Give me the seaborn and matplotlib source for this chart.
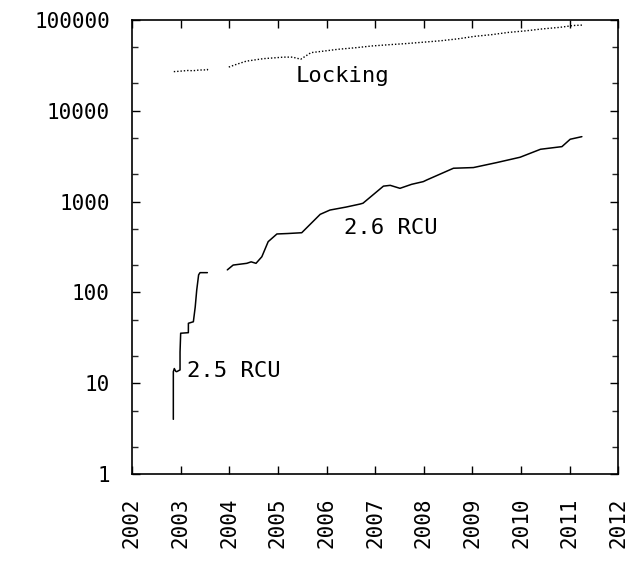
import matplotlib
matplotlib.use("Agg")
import matplotlib.pyplot as plt
import seaborn as sns
import pandas as pd
import numpy as np
from matplotlib.ticker import FixedLocator, NullFormatter

# ---- data ----
lock25_years = [2002.86, 2002.95, 2003.05, 2003.15, 2003.25, 2003.35, 2003.45, 2003.55, 2003.56]
lock25_vals = [27000, 27200, 27500, 27800, 27600, 28000, 28200, 28200, 30000]

lock26_years = [2003.99, 2004.15, 2004.35, 2004.7, 2005.12, 2005.3, 2005.47, 2005.68, 2005.95,
                2006.24, 2006.6, 2006.94, 2007.3, 2007.64, 2008.0, 2008.34, 2008.7, 2009.04,
                2009.4, 2009.74, 2010.1, 2010.44, 2010.8, 2011.07, 2011.28]
lock26_vals = [30300, 32500, 35200, 37500, 39000, 39000, 37000, 43700, 45500,
               47600, 49500, 51800, 53500, 55000, 57000, 59000, 62000, 66000,
               69000, 73000, 76000, 79800, 83000, 86900, 88000]

rcu25_years = [2002.850, 2002.850, 2002.870, 2002.900, 2002.919, 2002.988, 2002.988, 2003.001,
               2003.159, 2003.160, 2003.262, 2003.300, 2003.331, 2003.370, 2003.399, 2003.550]
rcu25_vals = [4.0, 13.4, 14.5, 13.5, 13.4, 14.0, 22, 35.5,
              36, 45.7, 47.5, 69, 106, 156, 165, 165]

rcu26_years = [2003.96, 2004.08, 2004.36, 2004.45, 2004.55, 2004.67, 2004.80, 2004.98, 2005.20,
               2005.49, 2005.87, 2006.07, 2006.40, 2006.69, 2006.75, 2007.17, 2007.31, 2007.51,
               2007.75, 2007.99, 2008.06, 2008.61, 2009.02, 2009.50, 2009.98, 2010.40, 2010.84,
               2011.01, 2011.25]
rcu26_vals = [177, 200, 209, 217, 209, 247, 362, 440, 445,
              454, 724, 807, 870, 940, 960, 1480, 1510, 1400,
              1550, 1660, 1730, 2330, 2370, 2690, 3080, 3770, 4030,
              4860, 5190]

year_ticks = list(range(2002, 2013))
y_ticks = [1, 10, 100, 1000, 10000, 100000]
y_tick_labels = ["1", "10", "100", "1000", "10000", "100000"]

labels = ["Locking", "2.6 RCU", "2.5 RCU"]
label_x = [2006.32, 2007.33, 2004.1]
label_y = [24000, 510, 13.5]

# ---- style ----
sns.set_theme(style="white")
plt.rcParams["font.family"] = ["DejaVu Sans Mono"]
plt.rcParams["axes.linewidth"] = 1.2
plt.rcParams["axes.edgecolor"] = "black"
plt.rcParams["text.color"] = "black"

fig = plt.figure(figsize=(6.3, 5.68), dpi=100)
ax = fig.add_axes([0.2095, 0.1655, 0.772, 0.7993])

def seg(years, vals, **kw):
    df = pd.DataFrame({"year": years, "val": vals})
    sns.lineplot(data=df, x="year", y="val", ax=ax, color="black", sort=False,
                 estimator=None, legend=False, **kw)

seg(lock25_years, lock25_vals, linewidth=1.0, linestyle=(0, (1, 1.4)))
seg(lock26_years, lock26_vals, linewidth=1.0, linestyle=(0, (1, 1.4)))
seg(rcu25_years, rcu25_vals, linewidth=1.1)
seg(rcu26_years, rcu26_vals, linewidth=1.1)

ax.set_yscale("log")
ax.set_xlim(2002, 2012)
ax.set_ylim(1, 100000)
ax.set_xlabel("")
ax.set_ylabel("")

ax.xaxis.set_major_locator(FixedLocator(year_ticks))
ax.set_xticklabels([str(y) for y in year_ticks], rotation=90, fontsize=15, color="black")
ax.yaxis.set_major_locator(FixedLocator(y_ticks))
ax.set_yticklabels(y_tick_labels, fontsize=15, color="black")
minor = [m * 10 ** e for e in range(0, 5) for m in (2, 5)]
ax.yaxis.set_minor_locator(FixedLocator(minor))
ax.yaxis.set_minor_formatter(NullFormatter())

ax.tick_params(axis="x", which="major", direction="in", length=6, width=1,
               top=True, bottom=True, pad=17, colors="black")
ax.tick_params(axis="y", which="major", direction="in", length=6, width=1,
               left=True, right=True, pad=16, colors="black")
ax.tick_params(axis="y", which="minor", direction="in", length=4, width=1,
               left=True, right=True)

for s in ax.spines.values():
    s.set_visible(True)
    s.set_color("black")

for t, x, y in zip(labels, label_x, label_y):
    ax.text(x, y, t, fontsize=16, va="center", ha="center", color="black")

fig.savefig("out.png", dpi=100)
